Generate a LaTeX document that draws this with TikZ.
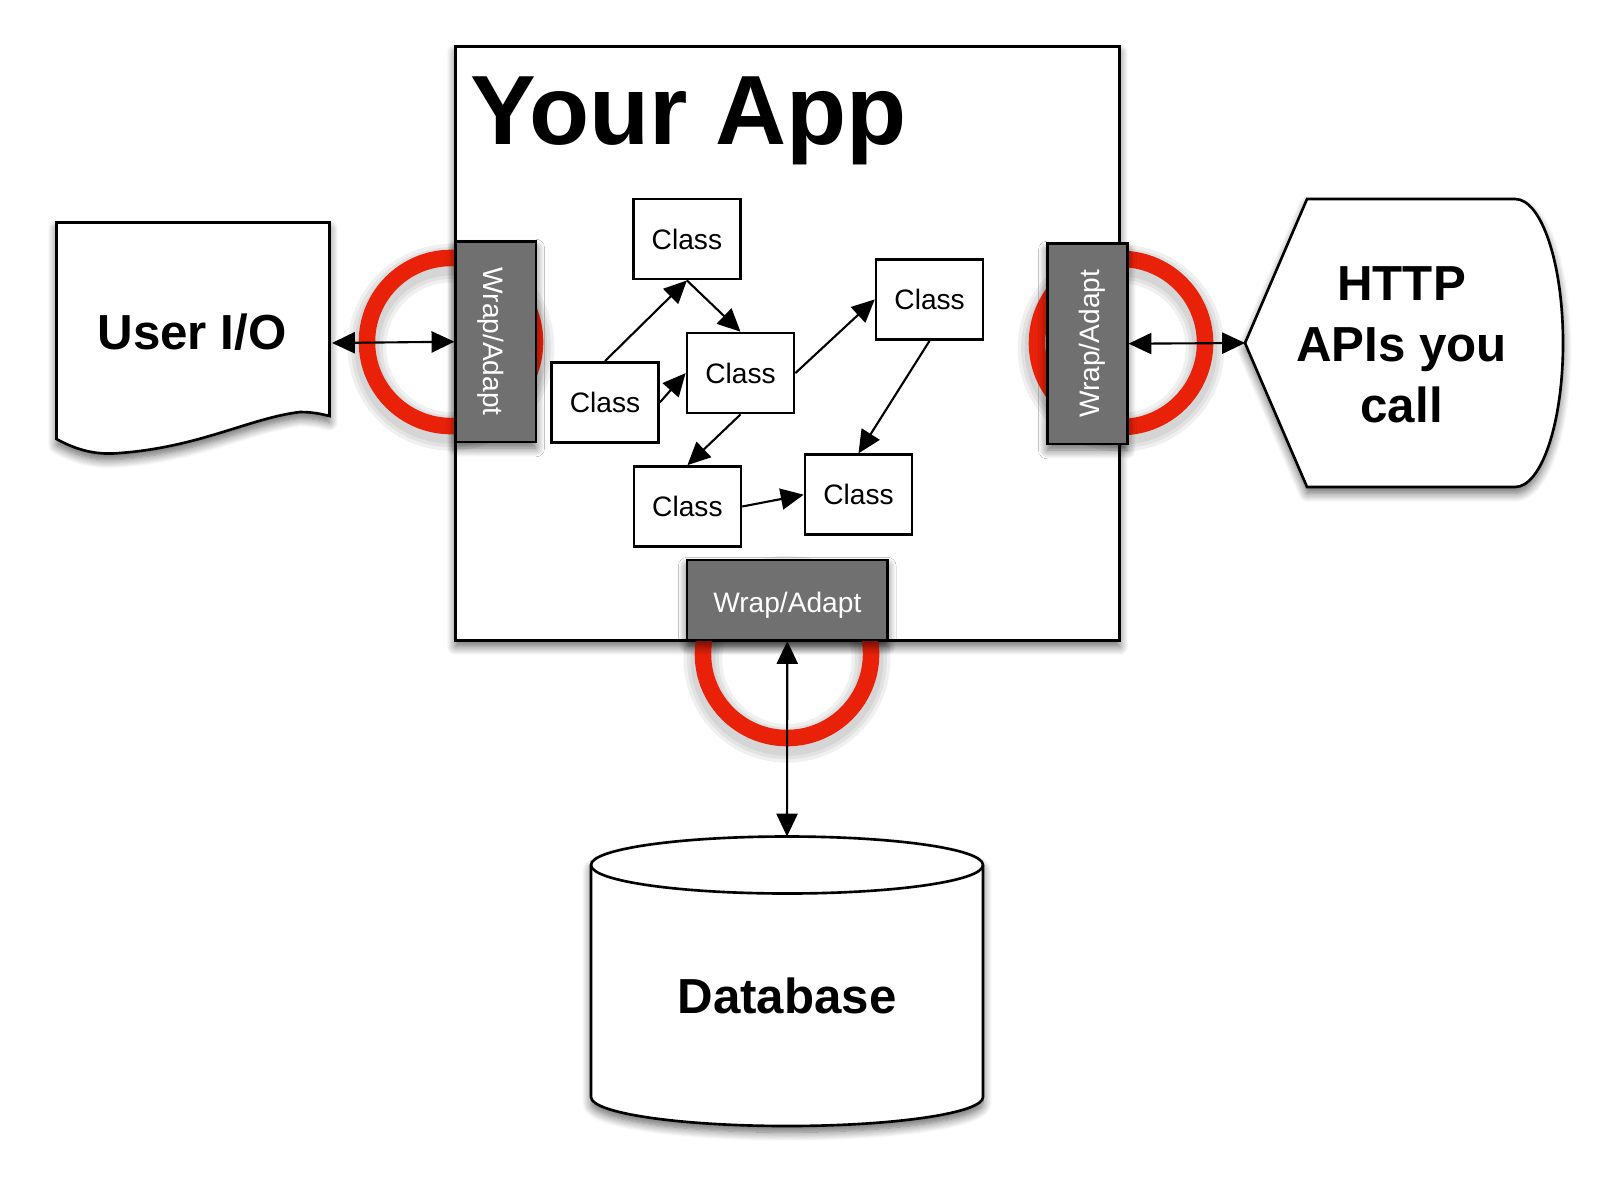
\documentclass[tikz,border=0pt]{standalone}
\usepackage{fontspec}
\setmainfont{Liberation Sans}
\usetikzlibrary{arrows.meta,shadows.blur}

\definecolor{ringred}{RGB}{232,33,8}
\definecolor{wrapgray}{RGB}{112,112,112}

\tikzset{
  shade/.style={blur shadow={shadow xshift=0pt,shadow yshift=-1.8pt,shadow blur radius=2.5pt,
    shadow blur steps=10,shadow opacity=60}},
  classbox/.style={draw,line width=0.75pt,fill=white,inner sep=0pt,
    minimum width=10.7mm,minimum height=8mm,font=\fontsize{8}{9.6}\selectfont},
  wrapbox/.style={draw,line width=0.7pt,fill=wrapgray,text=white,shade,inner sep=0pt,
    minimum width=20mm,minimum height=8mm,text height=1.6ex,text depth=0.25ex,
    font=\fontsize{8}{9.6}\selectfont},
  ring/.style={ringred,line width=4.7pt},
  ringshade/.style={black,opacity=0.06,yshift=-1.5pt},
  flow/.style={black,line width=0.6pt,->,>={Triangle[length=6.5pt,width=6pt]}},
  link/.style={black,line width=0.6pt,<->,>={Triangle[length=6.5pt,width=6pt]}},
  big/.style={font=\bfseries\fontsize{14}{17.4}\selectfont,align=center,inner sep=0pt}
}

\begin{document}
\begin{tikzpicture}[x=0.01cm,y=-0.01cm]
 \useasboundingbox (0,0) rectangle (1616,1191);
 % the application
 \node[draw,line width=0.75pt,fill=white,shade,inner sep=0pt,
       minimum width=66.37mm,minimum height=59.36mm] (app) at (787.4,343.2) {};
 \node[anchor=base west,inner sep=0pt,font=\bfseries\fontsize{28}{30}\selectfont]
       (title) at (470,144.3) {Your App};
 % rings
 \foreach \c in {(451,342),(1121,343),(787,654)}{
   \foreach \w in {11pt,9pt,7pt}
     \draw[ringshade,line width=\w] \c circle[radius=8.4mm];
   \draw[ring] \c circle[radius=8.4mm];
 }
 % wrappers
 \node[wrapbox,rotate=-90] (lwrap) at (495.7,341.7) {Wrap/Adapt};
 \node[wrapbox,rotate=90] (rwrap) at (1087.3,343.7) {Wrap/Adapt};
 \node[wrapbox] (bwrap) at (787.3,599.8) {Wrap/Adapt};
 % classes
 \node[classbox] (c1) at (686.9,239.1) {Class};
 \node[classbox] (c2) at (605,402.4) {Class};
 \node[classbox] (c3) at (740.5,373.1) {Class};
 \node[classbox] (c4) at (929.6,299.4) {Class};
 \node[classbox] (c5) at (687.4,506.5) {Class};
 \node[classbox] (c6) at (858.5,494.7) {Class};
 \draw[flow] (c2.north) -- (c1.south);
 \draw[flow] (c1.south) -- (c3.north);
 \draw[flow] (c2.east) -- (c3.west);
 \draw[flow] (c3.east) -- (c4.west);
 \draw[flow] (c4.south) -- (c6.north);
 \draw[flow] (c3.south) -- (c5.north);
 \draw[flow] (c5.east) -- (c6.west);
 % user i/o
 \draw[line width=0.75pt,fill=white,shade] (56.5,222.5) -- (329.5,222.5) -- (329.5,416)
   .. controls (325,415) and (315,412) .. (300,412)
   .. controls (250,418) and (200,447) .. (120,453)
   .. controls (100,455) and (80,452) .. (56.5,439) -- cycle;
 \node[big] (userio) at (192,332) {User I/O};
 \coordinate (userio east) at (332,343);
 % http apis
 \draw[line width=0.75pt,fill=white,shade] (1245,343) -- (1307,199) -- (1515,199)
   .. controls (1541.5,199) and (1563,263.5) .. (1563,343)
   .. controls (1563,422.5) and (1541.5,487) .. (1515,487) -- (1307,487) -- cycle;
 \node[big] (http) at (1401.6,345) {HTTP\\APIs you\\call};
 \coordinate (http west) at (1245,343);
 % database
 \draw[line width=0.75pt,fill=white,shade] (591,865) -- (591,1097)
   .. controls (591,1113) and (679,1126) .. (787,1126)
   .. controls (895,1126) and (983,1113) .. (983,1097) -- (983,865)
   .. controls (983,849) and (895,836.5) .. (787,836.5)
   .. controls (679,836.5) and (591,849) .. (591,865) -- cycle;
 \draw[line width=0.75pt] (591,865) .. controls (591,881) and (679,893.5) .. (787,893.5)
   .. controls (895,893.5) and (983,881) .. (983,865);
 \node[big] (db) at (787,996) {Database};
 \coordinate (db top) at (787,836.5);
 % connections to the outside
 \draw[link] (userio east) -- (lwrap.south);
 \draw[link] (rwrap.south) -- (http west);
 \draw[link] (bwrap.south) -- (db top);
\end{tikzpicture}
\end{document}
